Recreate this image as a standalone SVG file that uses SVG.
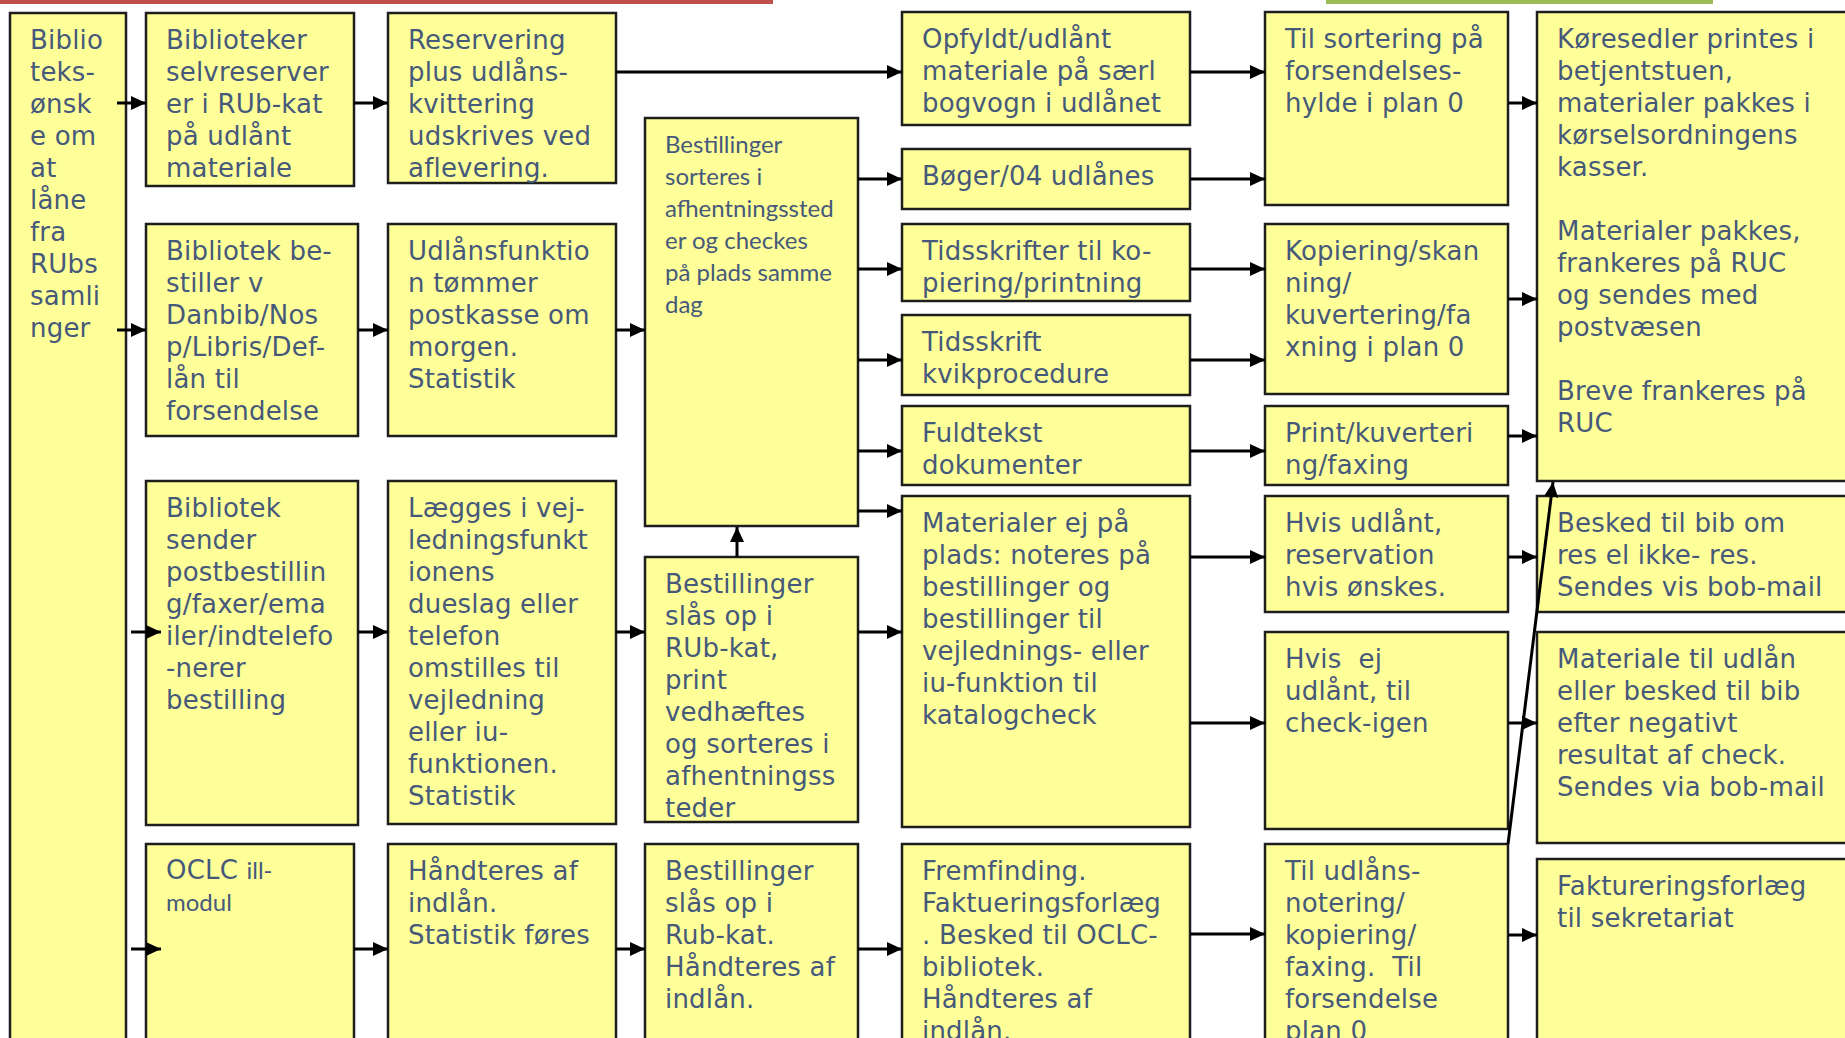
<svg xmlns="http://www.w3.org/2000/svg" width="1845" height="1038" viewBox="0 0 1845 1038">
<defs>
<marker id="ah" markerUnits="userSpaceOnUse" markerWidth="15" markerHeight="14" refX="15" refY="7" orient="auto">
<path d="M0,0 L15,7 L0,14 z" fill="#000"/>
</marker>
<style>
.box{fill:#FFFF99;stroke:#1e1e1e;stroke-width:2.5}
.t{font-family:"DejaVu Sans",Verdana,sans-serif;font-size:26px;fill:#46597B;letter-spacing:0.2px;white-space:pre}
.g{font-family:Lato,"Open Sans",sans-serif;font-size:24px;fill:#46597B;letter-spacing:0}
.c{stroke:#000;stroke-width:3;fill:none;marker-end:url(#ah)}
</style>
</defs>
<rect x="0" y="0" width="773" height="4" fill="#C0504D"/>
<rect x="1326" y="0" width="387" height="4" fill="#9BBB59"/>

<g id="n-biblio"><rect class="box" x="10" y="13" width="116" height="1040"/>
<text class="t" x="30" y="49"><tspan x="30">Biblio</tspan><tspan x="30" dy="32">teks-</tspan><tspan x="30" dy="32">ønsk</tspan><tspan x="30" dy="32">e om</tspan><tspan x="30" dy="32">at</tspan><tspan x="30" dy="32">låne</tspan><tspan x="30" dy="32">fra</tspan><tspan x="30" dy="32">RUbs</tspan><tspan x="30" dy="32">samli</tspan><tspan x="30" dy="32">nger</tspan></text></g>

<g id="n-selvres"><rect class="box" x="146" y="13" width="208" height="173"/>
<text class="t" x="166" y="49"><tspan x="166">Biblioteker</tspan><tspan x="166" dy="32">selvreserver</tspan><tspan x="166" dy="32">er i RUb-kat</tspan><tspan x="166" dy="32">på udlånt</tspan><tspan x="166" dy="32">materiale</tspan></text></g>

<g id="n-reservering"><rect class="box" x="388" y="13" width="228" height="170"/>
<text class="t" x="408" y="49"><tspan x="408">Reservering</tspan><tspan x="408" dy="32">plus udlåns-</tspan><tspan x="408" dy="32">kvittering</tspan><tspan x="408" dy="32">udskrives ved</tspan><tspan x="408" dy="32">aflevering.</tspan></text></g>

<g id="n-bestiller"><rect class="box" x="146" y="224" width="212" height="212"/>
<text class="t" x="166" y="260"><tspan x="166">Bibliotek be-</tspan><tspan x="166" dy="32">stiller v</tspan><tspan x="166" dy="32">Danbib/Nos</tspan><tspan x="166" dy="32">p/Libris/Def-</tspan><tspan x="166" dy="32">lån til</tspan><tspan x="166" dy="32">forsendelse</tspan></text></g>

<g id="n-udlaansfunktion"><rect class="box" x="388" y="224" width="228" height="212"/>
<text class="t" x="408" y="260"><tspan x="408">Udlånsfunktio</tspan><tspan x="408" dy="32">n tømmer</tspan><tspan x="408" dy="32">postkasse om</tspan><tspan x="408" dy="32">morgen.</tspan><tspan x="408" dy="32">Statistik</tspan></text></g>

<g id="n-sender"><rect class="box" x="146" y="481" width="212" height="344"/>
<text class="t" x="166" y="517"><tspan x="166">Bibliotek</tspan><tspan x="166" dy="32">sender</tspan><tspan x="166" dy="32">postbestillin</tspan><tspan x="166" dy="32">g/faxer/ema</tspan><tspan x="166" dy="32">iler/indtelefo</tspan><tspan x="166" dy="32">-nerer</tspan><tspan x="166" dy="32">bestilling</tspan></text></g>

<g id="n-laegges"><rect class="box" x="388" y="481" width="228" height="343"/>
<text class="t" x="408" y="517"><tspan x="408">Lægges i vej-</tspan><tspan x="408" dy="32">ledningsfunkt</tspan><tspan x="408" dy="32">ionens</tspan><tspan x="408" dy="32">dueslag eller</tspan><tspan x="408" dy="32">telefon</tspan><tspan x="408" dy="32">omstilles til</tspan><tspan x="408" dy="32">vejledning</tspan><tspan x="408" dy="32">eller iu-</tspan><tspan x="408" dy="32">funktionen.</tspan><tspan x="408" dy="32">Statistik</tspan></text></g>

<g id="n-oclc"><rect class="box" x="146" y="844" width="208" height="220"/>
<text class="t" x="166" y="879">OCLC <tspan class="g">ill-</tspan></text>
<text class="t g" x="166" y="911">modul</text></g>

<g id="n-haandteres"><rect class="box" x="388" y="844" width="228" height="220"/>
<text class="t" x="408" y="880"><tspan x="408">Håndteres af</tspan><tspan x="408" dy="32">indlån.</tspan><tspan x="408" dy="32">Statistik føres</tspan></text></g>

<g id="n-sorteres"><rect class="box" x="645" y="118" width="213" height="408"/>
<text class="t g" x="665" y="153"><tspan x="665">Bestillinger</tspan><tspan x="665" dy="32">sorteres i</tspan><tspan x="665" dy="32">afhentningssted</tspan><tspan x="665" dy="32">er og checkes</tspan><tspan x="665" dy="32">på plads samme</tspan><tspan x="665" dy="32">dag</tspan></text></g>

<g id="n-slaasop"><rect class="box" x="645" y="557" width="213" height="265"/>
<text class="t" x="665" y="593"><tspan x="665">Bestillinger</tspan><tspan x="665" dy="32">slås op i</tspan><tspan x="665" dy="32">RUb-kat,</tspan><tspan x="665" dy="32">print</tspan><tspan x="665" dy="32">vedhæftes</tspan><tspan x="665" dy="32">og sorteres i</tspan><tspan x="665" dy="32">afhentningss</tspan><tspan x="665" dy="32">teder</tspan></text></g>

<g id="n-rubkat"><rect class="box" x="645" y="844" width="213" height="220"/>
<text class="t" x="665" y="880"><tspan x="665">Bestillinger</tspan><tspan x="665" dy="32">slås op i</tspan><tspan x="665" dy="32">Rub-kat.</tspan><tspan x="665" dy="32">Håndteres af</tspan><tspan x="665" dy="32">indlån.</tspan></text></g>

<g id="n-opfyldt"><rect class="box" x="902" y="12" width="288" height="113"/>
<text class="t" x="922" y="48"><tspan x="922">Opfyldt/udlånt</tspan><tspan x="922" dy="32">materiale på særl</tspan><tspan x="922" dy="32">bogvogn i udlånet</tspan></text></g>

<g id="n-boeger"><rect class="box" x="902" y="149" width="288" height="60"/>
<text class="t" x="922" y="185">Bøger/04 udlånes</text></g>

<g id="n-tidsskrifter"><rect class="box" x="902" y="224" width="288" height="77"/>
<text class="t" x="922" y="260"><tspan x="922">Tidsskrifter til ko-</tspan><tspan x="922" dy="32">piering/printning</tspan></text></g>

<g id="n-kvik"><rect class="box" x="902" y="315" width="288" height="80"/>
<text class="t" x="922" y="351"><tspan x="922">Tidsskrift</tspan><tspan x="922" dy="32">kvikprocedure</tspan></text></g>

<g id="n-fuldtekst"><rect class="box" x="902" y="406" width="288" height="79"/>
<text class="t" x="922" y="442"><tspan x="922">Fuldtekst</tspan><tspan x="922" dy="32">dokumenter</tspan></text></g>

<g id="n-materialerej"><rect class="box" x="902" y="496" width="288" height="331"/>
<text class="t" x="922" y="532"><tspan x="922">Materialer ej på</tspan><tspan x="922" dy="32">plads: noteres på</tspan><tspan x="922" dy="32">bestillinger og</tspan><tspan x="922" dy="32">bestillinger til</tspan><tspan x="922" dy="32">vejlednings- eller</tspan><tspan x="922" dy="32">iu-funktion til</tspan><tspan x="922" dy="32">katalogcheck</tspan></text></g>

<g id="n-fremfinding"><rect class="box" x="902" y="844" width="288" height="220"/>
<text class="t" x="922" y="880"><tspan x="922">Fremfinding.</tspan><tspan x="922" dy="32">Faktueringsforlæg</tspan><tspan x="922" dy="32">. Besked til OCLC-</tspan><tspan x="922" dy="32">bibliotek.</tspan><tspan x="922" dy="32">Håndteres af</tspan><tspan x="922" dy="32">indlån.</tspan></text></g>

<g id="n-tilsortering"><rect class="box" x="1265" y="12" width="243" height="193"/>
<text class="t" x="1285" y="48"><tspan x="1285">Til sortering på</tspan><tspan x="1285" dy="32">forsendelses-</tspan><tspan x="1285" dy="32">hylde i plan 0</tspan></text></g>

<g id="n-kopiering"><rect class="box" x="1265" y="224" width="243" height="170"/>
<text class="t" x="1285" y="260"><tspan x="1285">Kopiering/skan</tspan><tspan x="1285" dy="32">ning/</tspan><tspan x="1285" dy="32">kuvertering/fa</tspan><tspan x="1285" dy="32">xning i plan 0</tspan></text></g>

<g id="n-print"><rect class="box" x="1265" y="406" width="243" height="79"/>
<text class="t" x="1285" y="442"><tspan x="1285">Print/kuverteri</tspan><tspan x="1285" dy="32">ng/faxing</tspan></text></g>

<g id="n-hvisudlaant"><rect class="box" x="1265" y="496" width="243" height="116"/>
<text class="t" x="1285" y="532"><tspan x="1285">Hvis udlånt,</tspan><tspan x="1285" dy="32">reservation</tspan><tspan x="1285" dy="32">hvis ønskes.</tspan></text></g>

<g id="n-hvisej"><rect class="box" x="1265" y="632" width="243" height="197"/>
<text class="t" x="1285" y="668"><tspan x="1285">Hvis  ej</tspan><tspan x="1285" dy="32">udlånt, til</tspan><tspan x="1285" dy="32">check-igen</tspan></text></g>

<g id="n-tiludlaans"><rect class="box" x="1265" y="844" width="243" height="220"/>
<text class="t" x="1285" y="880"><tspan x="1285">Til udlåns-</tspan><tspan x="1285" dy="32">notering/</tspan><tspan x="1285" dy="32">kopiering/</tspan><tspan x="1285" dy="32">faxing.  Til</tspan><tspan x="1285" dy="32">forsendelse</tspan><tspan x="1285" dy="32">plan 0</tspan></text></g>

<g id="n-koeresedler"><rect class="box" x="1537" y="12" width="330" height="469"/>
<text class="t" x="1557" y="48"><tspan x="1557">Køresedler printes i</tspan><tspan x="1557" dy="32">betjentstuen,</tspan><tspan x="1557" dy="32">materialer pakkes i</tspan><tspan x="1557" dy="32">kørselsordningens</tspan><tspan x="1557" dy="32">kasser.</tspan><tspan x="1557" dy="64">Materialer pakkes,</tspan><tspan x="1557" dy="32">frankeres på RUC</tspan><tspan x="1557" dy="32">og sendes med</tspan><tspan x="1557" dy="32">postvæsen</tspan><tspan x="1557" dy="64">Breve frankeres på</tspan><tspan x="1557" dy="32">RUC</tspan></text></g>

<g id="n-besked"><rect class="box" x="1537" y="496" width="330" height="116"/>
<text class="t" x="1557" y="532"><tspan x="1557">Besked til bib om</tspan><tspan x="1557" dy="32">res el ikke- res.</tspan><tspan x="1557" dy="32">Sendes vis bob-mail</tspan></text></g>

<g id="n-materialetiludlaan"><rect class="box" x="1537" y="632" width="330" height="211"/>
<text class="t" x="1557" y="668"><tspan x="1557">Materiale til udlån</tspan><tspan x="1557" dy="32">eller besked til bib</tspan><tspan x="1557" dy="32">efter negativt</tspan><tspan x="1557" dy="32">resultat af check.</tspan><tspan x="1557" dy="32">Sendes via bob-mail</tspan></text></g>

<g id="n-fakturering"><rect class="box" x="1537" y="859" width="330" height="200"/>
<text class="t" x="1557" y="895"><tspan x="1557">Faktureringsforlæg</tspan><tspan x="1557" dy="32">til sekretariat</tspan></text></g>

<g id="connectors">
<line class="c" x1="117" y1="103" x2="146" y2="103"/>
<line class="c" x1="117" y1="330" x2="146" y2="330"/>
<line class="c" x1="131" y1="632" x2="161" y2="632"/>
<line class="c" x1="131" y1="949" x2="161" y2="949"/>
<line class="c" x1="354" y1="103" x2="388" y2="103"/>
<line class="c" x1="358" y1="330" x2="388" y2="330"/>
<line class="c" x1="358" y1="632" x2="388" y2="632"/>
<line class="c" x1="354" y1="949" x2="388" y2="949"/>
<line class="c" x1="616" y1="330" x2="645" y2="330"/>
<line class="c" x1="616" y1="632" x2="645" y2="632"/>
<line class="c" x1="616" y1="949" x2="645" y2="949"/>
<line class="c" x1="616" y1="72" x2="902" y2="72"/>
<line class="c" x1="737" y1="557" x2="737" y2="527"/>
<line class="c" x1="858" y1="179" x2="902" y2="179"/>
<line class="c" x1="858" y1="269" x2="902" y2="269"/>
<line class="c" x1="858" y1="360" x2="902" y2="360"/>
<line class="c" x1="858" y1="451" x2="902" y2="451"/>
<line class="c" x1="858" y1="511" x2="902" y2="511"/>
<line class="c" x1="858" y1="632" x2="902" y2="632"/>
<line class="c" x1="858" y1="949" x2="902" y2="949"/>
<line class="c" x1="1190" y1="72" x2="1265" y2="72"/>
<line class="c" x1="1190" y1="179" x2="1265" y2="179"/>
<line class="c" x1="1190" y1="269" x2="1265" y2="269"/>
<line class="c" x1="1190" y1="360" x2="1265" y2="360"/>
<line class="c" x1="1190" y1="451" x2="1265" y2="451"/>
<line class="c" x1="1190" y1="557" x2="1265" y2="557"/>
<line class="c" x1="1190" y1="723" x2="1265" y2="723"/>
<line class="c" x1="1190" y1="934" x2="1265" y2="934"/>
<line class="c" x1="1508" y1="103" x2="1537" y2="103"/>
<line class="c" x1="1508" y1="299" x2="1537" y2="299"/>
<line class="c" x1="1508" y1="436" x2="1537" y2="436"/>
<line class="c" x1="1508" y1="557" x2="1537" y2="557"/>
<line class="c" x1="1508" y1="723" x2="1537" y2="723"/>
<line class="c" x1="1508" y1="935" x2="1537" y2="935"/>
<line class="c" x1="1508" y1="844" x2="1553" y2="482"/>
</g>
</svg>
